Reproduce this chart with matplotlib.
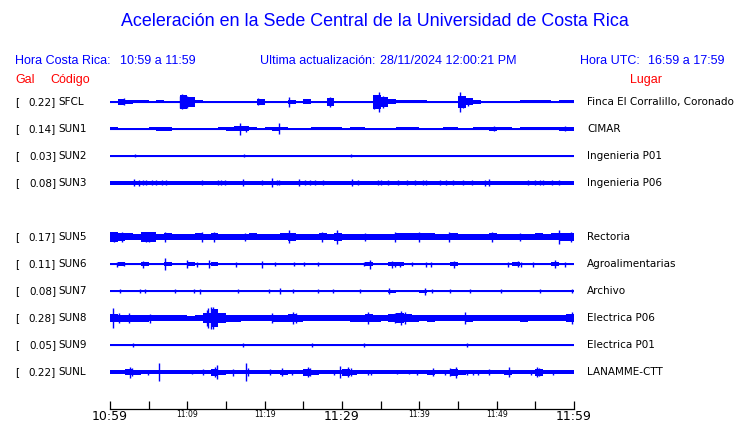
import matplotlib
matplotlib.use('Agg')
import matplotlib.pyplot as plt
import numpy as np

# stations, from top to bottom (SUN4 is missing -> empty row)
stations = ['SFCL', 'SUN1', 'SUN2', 'SUN3', 'SUN5', 'SUN6', 'SUN7', 'SUN8', 'SUN9', 'SUNL']
rows = [0, 1, 2, 3, 5, 6, 7, 8, 9, 10]
gal = [0.22, 0.14, 0.03, 0.08, 0.17, 0.11, 0.08, 0.28, 0.05, 0.22]
places = ['Finca El Corralillo, Coronado', 'CIMAR', 'Ingenieria P01', 'Ingenieria P06',
          'Rectoria', 'Agroalimentarias', 'Archivo', 'Electrica P06', 'Electrica P01',
          'LANAMME-CTT']

# time axis (minutes after 10:59)
tick_minutes = list(range(0, 61, 5))
label_minutes = [0, 10, 20, 30, 40, 50, 60]
time_labels = ['10:59', '11:09', '11:19', '11:29', '11:39', '11:49', '11:59']

# envelope (half amplitude, plot units) per minute
env_sfcl = [1, 3, 2, 1.5, 1.5, 0.5, 1.5, 0.5, 0.5, 7, 5, 1.5, 0.5, 0.5, 0.5, 1, 1, 0.5, 0.5, 3,
            1, 0.5, 0.5, 2, 1, 2.5, 1, 0.5, 4, 0.5, 0.5, 0.5, 1, 0.5, 7, 5, 2.5, 1.5, 1.5, 1.5,
            1.5, 1, 0.5, 0.5, 1, 6, 3.5, 2, 0.5, 0.5, 0.5, 1, 1, 1.5, 1.5, 1.5, 1.5, 0.5, 1.5, 1.5]
env_sun1 = [1.5, 1, 1, 1, 1, 1.5, 2, 2, 1, 1, 1, 1, 1, 1, 1.5, 2, 2.5, 2.5, 1.5, 1,
            1.5, 2, 1.5, 1, 1, 1, 1.5, 1.5, 1.5, 1.5, 1, 1.5, 1.5, 1, 1, 1, 1, 1.5, 1.5, 1.5,
            1, 1, 1, 1.5, 1.5, 1, 1, 1.5, 1.5, 2, 1.5, 1.5, 1, 1.5, 1.5, 1.5, 1.5, 1.5, 2, 2]
env_sun2 = [0.5, 0.5, 0.5, 1.3, 0.5, 0.8, 0.5, 0.5, 0.5, 0.8, 0.5, 0.5, 0.5, 0.5, 1, 1, 0.5, 1.3, 0.5, 0.5,
            1, 0.5, 0.6, 0.5, 1.3, 1, 1, 0.8, 0.5, 0.7, 0.7, 1.3, 0.8, 0.5, 0.7, 0.5, 0.5, 0.5, 0.6, 0.5,
            1.3, 0.8, 1, 1, 0.5, 0.7, 0.5, 0.5, 1.3, 0.8, 0.7, 0.5, 0.5, 0.8, 0.5, 1.3, 0.7, 0.7, 0.5, 0.5]
env_sun3 = [1.7, 1.7, 1.7, 2, 1.8, 1.7, 1.7, 1.7, 1.7, 1.7, 1.7, 1.7, 1.7, 1.7, 1.8, 1.7, 1.7, 2, 1.7, 1.7,
            1.7, 1.7, 1.7, 1.7, 2, 1.7, 1.7, 1.7, 1.7, 1.7, 1.7, 2, 1.7, 1.7, 1.7, 1.7, 1.7, 1.7, 1.7, 1.7,
            1.7, 1.7, 1.7, 1.7, 1.7, 1.7, 1.7, 1.7, 2, 2, 1.7, 1.7, 1.7, 1.7, 1.8, 1.8, 1.7, 1.7, 1.8, 1.7]
env_sun5 = [4.5, 4, 3.5, 3, 4.5, 4.5, 3, 3.5, 3, 3, 3, 3.5, 3, 3.5, 3, 3, 3, 3, 3.5, 3,
            3, 3, 3.5, 4, 3, 3, 3, 3.5, 3, 4, 3, 3, 3, 3, 3, 3, 3, 3.5, 3.5, 3.5,
            3.5, 3.5, 3, 3, 3.5, 3, 3, 3, 3, 3.5, 3, 3, 3, 3, 3, 3.5, 3, 3.5, 4, 4]
env_sun6 = [1.5, 1.6, 1.5, 1.5, 1.6, 1.5, 1.5, 1.6, 1.5, 1.5, 1.6, 1.5, 1.5, 1.6, 1.5, 1.5, 1.5, 1.5, 1.5, 1.5,
            1.5, 1.5, 1.5, 1.5, 1.5, 1.5, 1.5, 1.5, 1.5, 1.5, 1.5, 1.5, 1.5, 1.6, 1.5, 1.5, 1.6, 1.6, 1.5, 1.5,
            1.5, 1.5, 1.5, 1.5, 1.6, 1.5, 1.5, 1.5, 1.5, 1.5, 1.5, 1.5, 1.6, 1.5, 1.5, 1.5, 1.5, 1.6, 1.5, 1.5]
env_sun7 = [1.2, 1.3, 1.1, 1.2, 1.3, 1.1, 1.2, 1.1, 1.2, 1.1, 1.3, 1.3, 1.2, 1.3, 1.3, 1.3, 1.3, 1.2, 1.3, 1.3,
            1.3, 1.2, 1.3, 1.3, 1.3, 1.3, 1.3, 1.3, 1.3, 1.3, 1.3, 1.3, 1.2, 1.3, 1.3, 1.3, 1.5, 1.3, 1.3, 1.3,
            1.5, 1.3, 1.3, 1.3, 1.3, 1.3, 1.3, 1.3, 1.3, 1.3, 1.3, 1.3, 1.3, 1.3, 1.3, 1.3, 1.3, 1.3, 1.3, 1.3]
env_sun8 = [4, 3.5, 3.5, 3.5, 3.5, 3, 3, 3, 3, 3, 2.5, 3, 5, 9, 5, 3.5, 3.5, 3, 3, 3,
            3, 3.5, 3.5, 4.5, 3.5, 3, 3, 3, 3, 3, 3, 3.5, 3.5, 4.5, 3.5, 3, 4, 5, 4.5, 3.5,
            3, 3.5, 3, 3, 3, 3, 3.5, 3, 3, 3, 3, 3, 3, 3.5, 3, 3, 3, 3, 3, 4]
env_sun9 = [1.2, 1.2, 1.2, 1.3, 1.2, 1.2, 1.1, 0.8, 0.8, 0.8, 0.9, 0.8, 0.8, 1.2, 1.2, 1.2, 1.2, 1.3, 1.2, 0.8,
            0.9, 1.2, 1.2, 1.2, 1.2, 1.2, 1.3, 1.2, 1.2, 0.8, 0.8, 0.9, 0.9, 1.2, 1.2, 1.2, 1.2, 1.2, 1.2, 1.2,
            1.2, 1.2, 1.2, 1.1, 1.2, 1.2, 1.3, 1.2, 1.2, 1.2, 1.2, 1.2, 1.2, 1.2, 1.2, 1.2, 1.2, 1.2, 1.2, 1.2]
env_sunl = [1.7, 1.7, 3, 2.5, 1.7, 1.7, 2, 1.7, 1.7, 1.7, 1.7, 1.7, 2, 3.5, 2.5, 1.8, 1.7, 2, 1.7, 1.7,
            1.7, 1.7, 2.5, 1.7, 1.7, 3.5, 2.5, 1.7, 1.7, 2, 3.5, 2.5, 1.7, 1.8, 1.8, 1.7, 1.7, 1.7, 1.7, 1.8,
            1.7, 2.5, 1.7, 1.8, 3.5, 2.5, 1.8, 1.8, 1.7, 2, 1.7, 2.5, 1.7, 1.7, 1.8, 3.5, 2, 1.8, 1.7, 1.7]

# narrow peaks: (minute, half amplitude)
spk_sfcl = [(1.8, 3.5), (9.0, 6), (9.3, 7.5), (10.0, 6), (19.2, 3.5), (23.1, 5), (28.5, 5),
            (34.2, 7), (34.8, 10), (35.3, 6), (45.2, 10), (45.7, 6), (46.3, 4)]
spk_sun1 = [(16.8, 6), (17.6, 3), (21.8, 5.5), (49.6, 2.5), (58.8, 2.5)]
spk_sun2 = [(3.2, 1.5), (17.3, 1.5), (31.2, 1.5)]
spk_sun3 = [(3.1, 3.5), (3.7, 3), (4.3, 2.5), (4.7, 2.5), (5.4, 2.5), (6.0, 2.5), (6.7, 2.5),
            (7.3, 2.5), (11.9, 2.5), (14.0, 2.5), (14.4, 2.5), (14.9, 2.5), (17.2, 3.5), (19.6, 2.5),
            (20.9, 4.5), (21.6, 2.5), (21.8, 2.5), (24.5, 3.5), (25.2, 2.5), (25.9, 2.5), (26.5, 2.5),
            (27.6, 2.5), (31.3, 3.5), (32.1, 2.5), (34.7, 2.5), (35.1, 2.5), (36.0, 2.5), (37.3, 2.5),
            (38.4, 2.5), (39.4, 2.5), (40.5, 2.5), (40.9, 2.5), (42.7, 2.5), (43.5, 2.5), (44.4, 2.5),
            (45.7, 2.5), (46.8, 2.5), (48.5, 3), (49.0, 3.5), (54.1, 2.5), (55.0, 2.5), (55.6, 2.5),
            (56.0, 2.5), (57.1, 2.5), (58.0, 2.5)]
spk_sun5 = [(0.5, 5.5), (1.5, 5), (4.6, 5.5), (5.0, 5), (7.1, 4.5), (11.9, 4.5), (13.4, 4.5),
            (17.5, 4), (23.1, 6.5), (27.4, 5), (29.3, 7), (33.0, 4), (36.9, 4.5), (39.9, 5.5),
            (43.8, 4.5), (49.4, 4.5), (53.0, 4), (58.0, 7), (59.6, 5)]
spk_sun6 = [(0.9, 2.5), (1.8, 2), (4.3, 3.5), (7.1, 6), (10.0, 4), (11.3, 2.5), (12.8, 4),
            (16.3, 2.5), (19.7, 3.5), (21.3, 2), (23.8, 2), (25.1, 2), (26.9, 2), (32.8, 2),
            (33.6, 4.5), (36.5, 3.5), (36.9, 2.5), (37.5, 2.5), (39.0, 2), (40.9, 2.5), (41.5, 2.5),
            (44.5, 3.5), (51.5, 2.5), (52.8, 3), (53.2, 2.5), (54.7, 2.5), (57.6, 4), (58.8, 2.5)]
spk_sun7 = [(1.3, 2), (3.9, 2), (4.5, 2), (8.4, 2), (10.8, 2), (11.6, 2.5), (16.6, 2), (20.5, 2),
            (22.0, 2.8), (23.7, 2), (26.9, 2), (28.9, 2), (32.3, 2), (36.1, 3.2), (40.7, 3.5),
            (41.6, 2), (44.0, 2), (46.6, 2), (50.6, 2), (55.6, 2), (59.7, 2)]
spk_sun8 = [(0.4, 10), (1.2, 5), (2.5, 5), (5.2, 4.5), (12.5, 8), (12.7, 10), (13.0, 11),
            (13.3, 11), (13.7, 8), (21.0, 5), (23.7, 6), (24.1, 5), (33.4, 6), (36.9, 5),
            (37.6, 7), (38.1, 6), (45.9, 6), (59.8, 6)]
spk_sun9 = [(3.0, 2), (17.2, 2), (26.1, 2), (32.8, 2), (46.1, 2)]
spk_sunl = [(2.6, 5.5), (2.9, 4), (4.9, 2.5), (6.3, 9), (10.6, 2), (12.0, 3), (13.6, 5),
            (13.8, 7), (15.9, 3.5), (17.6, 9), (17.9, 4), (20.7, 3), (22.2, 4), (23.5, 2.5),
            (25.6, 5), (25.9, 4), (29.0, 2.5), (29.7, 6), (30.8, 5), (31.1, 4), (33.4, 2.5),
            (33.8, 2.5), (37.1, 2), (38.6, 2), (39.7, 2.5), (41.8, 4), (43.3, 2.5), (44.0, 4),
            (44.7, 5.5), (46.1, 2.5), (47.0, 2.5), (47.6, 2.5), (49.0, 3), (51.6, 5), (54.5, 2.5),
            (55.2, 5), (55.5, 4), (57.3, 2.5)]

envelopes = [env_sfcl, env_sun1, env_sun2, env_sun3, env_sun5, env_sun6, env_sun7, env_sun8, env_sun9, env_sunl]
spikes = [spk_sfcl, spk_sun1, spk_sun2, spk_sun3, spk_sun5, spk_sun6, spk_sun7, spk_sun8, spk_sun9, spk_sunl]

W, H = 740, 423
BLUE = '#0000ff'
SCALE = 1 / 27.0  # amplitude units -> row spacing

fig = plt.figure(figsize=(W / 100, H / 100), dpi=100)

def fx(px):
    return px / W

def fy(py):
    return 1 - py / H

# traces axes: x from 110 to 574 px, rows 27 px apart, time axis line at 409 px
ax = fig.add_axes([fx(110), fy(409), (574 - 110) / W, (409 - 88.5) / H])
ax.set_xlim(0, 60)
ax.set_ylim((409 - 102) / 27.0, -0.5)

mins = np.arange(60) + 0.5
for r, env, spk in zip(rows, envelopes, spikes):
    env = np.array(env) * SCALE
    ax.plot([0, 60], [r, r], color=BLUE, lw=0.8)
    xs = np.concatenate([[0], mins, [60]])
    es = np.concatenate([[env[0]], env, [env[-1]]])
    ax.fill_between(xs, r - es, r + es, color=BLUE, lw=0, step='mid')
    if spk:
        sx = [s[0] for s in spk]
        sa = np.array([s[1] for s in spk]) * SCALE
        ax.vlines(sx, r - sa, r + sa, color=BLUE, lw=1.0)

for side in ['top', 'left', 'right']:
    ax.spines[side].set_visible(False)
ax.spines['bottom'].set_linewidth(0.9)
ax.set_yticks([])
ax.set_xticks(tick_minutes)
ax.set_xticklabels([time_labels[label_minutes.index(m)] if m in label_minutes else '' for m in tick_minutes])
ax.tick_params(axis='x', direction='in', length=6, width=0.9, pad=0.5)
for lab, m in zip(ax.get_xticklabels(), tick_minutes):
    lab.set_fontsize(9 if m in (0, 30, 60) else 5.5)

# left / right labels
for r, g, st, pl in zip(rows, gal, stations, places):
    py = 102 + 27 * r
    fig.text(fx(15), fy(py), '[', fontsize=7.5, va='center', ha='left')
    fig.text(fx(56), fy(py), f'{g:.2f}]', fontsize=7.5, va='center', ha='right')
    fig.text(fx(58), fy(py), st, fontsize=7.5, va='center', ha='left')
    fig.text(fx(587), fy(py), pl, fontsize=7.5, va='center', ha='left')

hdr = ['Liberation Sans', 'DejaVu Sans']
fig.text(fx(375), fy(22), 'Aceleración en la Sede Central de la Universidad de Costa Rica',
         family=hdr, fontsize=12.9, color=BLUE, ha='center', va='center')
fig.text(fx(15), fy(61), 'Hora Costa Rica:', family=hdr, fontsize=9, color=BLUE, ha='left', va='center')
fig.text(fx(120), fy(61), '10:59 a 11:59', family=hdr, fontsize=9, color=BLUE, ha='left', va='center')
fig.text(fx(260), fy(61), 'Ultima actualización:', family=hdr, fontsize=9, color=BLUE, ha='left', va='center')
fig.text(fx(380), fy(61), '28/11/2024 12:00:21 PM', family=hdr, fontsize=9, color=BLUE, ha='left', va='center')
fig.text(fx(580), fy(61), 'Hora UTC:', family=hdr, fontsize=9, color=BLUE, ha='left', va='center')
fig.text(fx(724), fy(61), '16:59 a 17:59', family=hdr, fontsize=9, color=BLUE, ha='right', va='center')
fig.text(fx(15), fy(80), 'Gal', family=hdr, fontsize=9, color='red', ha='left', va='center')
fig.text(fx(50), fy(80), 'Código', family=hdr, fontsize=9, color='red', ha='left', va='center')
fig.text(fx(630), fy(80), 'Lugar', family=hdr, fontsize=9, color='red', ha='left', va='center')

fig.savefig('out.png', dpi=100)
